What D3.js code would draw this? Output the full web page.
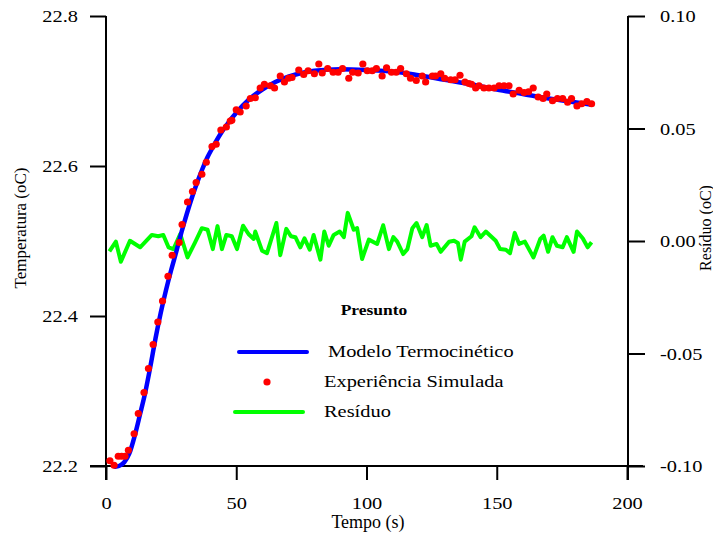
<!DOCTYPE html>
<html>
<head>
<meta charset="utf-8">
<script src="https://cdn.jsdelivr.net/npm/d3@7"></script>
<style>
  body { margin: 0; background: #fff; }
  svg text { font-family: "Liberation Serif", "Times New Roman", serif; fill: #000; }
</style>
</head>
<body>
<div id="chart"></div>
<script>
// model curve (time s, temperature oC)
var modelPoints = [
  [3.5,22.199],[5,22.200],[7,22.205],[9,22.217],[11,22.240],[13,22.268],[15,22.297],
  [17,22.332],[19,22.370],[21,22.404],[23,22.434],[25,22.461],[27,22.486],[29,22.512],
  [31,22.536],[33,22.558],[35,22.578],[37,22.596],[39,22.612],[41,22.625],[44,22.643],
  [47,22.658],[50,22.671],[55,22.689],[60,22.702],[65,22.712],[70,22.719],[75,22.724],
  [80,22.727],[90,22.729],[100,22.728],[110,22.726],[120,22.721],[130,22.715],
  [140,22.709],[150,22.702],[160,22.696],[170,22.690],[180,22.685],[186,22.682]
];

// simulated experiment points
var expPoints = [
  [1.5,22.207],[3.1,22.201],[4.7,22.213],[6.0,22.213],[7.3,22.213],[8.6,22.221],
  [10.8,22.243],[12.4,22.270],[14.6,22.298],[16.3,22.330],[18.1,22.362],[19.9,22.392],
  [21.7,22.420],[23.8,22.453],[25.4,22.481],[28.1,22.498],[29.2,22.522],[31.3,22.552],
  [33.2,22.566],[34.6,22.578],[36.8,22.589],[38.5,22.605],[40.7,22.626],[42.3,22.629],
  [44.1,22.648],[46.2,22.652],[47.7,22.660],[48.3,22.661],[50.0,22.675],[51.5,22.672],
  [53.8,22.680],[55.4,22.690],[57.3,22.691],[59.2,22.704],[60.8,22.709],[63.1,22.707],
  [64.7,22.704],[66.9,22.720],[68.5,22.712],[70.1,22.717],[71.4,22.718],[74.0,22.728],
  [75.9,22.722],[77.6,22.727],[80.0,22.723],[81.7,22.736],[83.0,22.724],[85.1,22.730],
  [87.2,22.725],[89.1,22.725],[90.8,22.730],[93.2,22.717],[94.7,22.725],[96.8,22.724],
  [98.6,22.736],[100.3,22.727],[102.2,22.727],[103.8,22.730],[106.0,22.720],[107.7,22.731],
  [109.6,22.725],[111.4,22.725],[113.1,22.730],[115.3,22.723],[116.9,22.717],[119.1,22.714],
  [121.4,22.720],[122.7,22.712],[125.3,22.720],[126.5,22.720],[128.5,22.723],[130.0,22.717],
  [132.3,22.715],[134.0,22.715],[135.9,22.721],[137.8,22.712],[139.3,22.710],[140.3,22.709],
  [141.9,22.704],[143.2,22.707],[145.1,22.704],[147.0,22.704],[149.0,22.704],[150.9,22.707],
  [152.8,22.707],[154.7,22.707],[156.3,22.696],[158.6,22.701],[160.5,22.698],[162.2,22.699],
  [164.0,22.704],[165.9,22.692],[167.8,22.690],[169.2,22.696],[171.4,22.687],[173.3,22.690],
  [175.3,22.690],[177.2,22.685],[178.7,22.690],[180.8,22.680],[182.6,22.683],[184.6,22.686],
  [186.4,22.683]
];

// residual (right axis)
var residualPoints = [
  [1.3,-0.0046],[3.8,-0.0003],[5.7,-0.0092],[9.2,0.0001],[13.1,-0.0028],[17.6,0.0027],
  [20.1,0.0021],[22.0,0.0027],[24.0,-0.0028],[25.9,-0.0036],[28.5,0.0031],[31.3,-0.0073],
  [34.2,-0.0006],[36.8,0.0057],[39.0,0.0050],[41.0,-0.0036],[42.8,0.0066],[44.5,-0.0036],
  [46.2,0.0027],[48.3,0.0021],[50.3,-0.0036],[52.6,0.0068],[54.7,0.0031],[56.7,0.0009],
  [57.3,0.0042],[59.9,-0.0043],[61.8,-0.0054],[65.4,0.0080],[66.9,-0.0063],[69.2,0.0054],
  [71.0,0.0021],[72.7,0.0017],[74.6,-0.0028],[76.2,0.0012],[78.2,-0.0039],[79.7,0.0027],
  [82.3,-0.0083],[83.8,0.0042],[85.5,-0.0021],[87.4,0.0027],[89.7,0.0042],[91.3,0.0017],
  [92.8,0.0125],[95.1,0.0050],[96.4,0.0057],[98.3,-0.0080],[100.9,0.0006],[104.1,-0.0013],
  [106.4,0.0070],[108.6,-0.0036],[110.3,0.0017],[111.8,-0.0003],[114.1,-0.0058],[115.7,-0.0036],
  [117.6,0.0057],[119.2,0.0080],[121.4,0.0017],[123.1,0.0071],[124.6,-0.0021],[126.9,-0.0013],
  [128.5,-0.0048],[131.7,-0.0003],[133.6,0.0001],[135.1,-0.0009],[136.2,-0.0083],[137.7,-0.0003],
  [140.3,0.0021],[141.5,0.0061],[143.8,0.0017],[145.8,0.0042],[149.6,0.0001],[151.3,-0.0036],
  [153.5,-0.0039],[155.1,-0.0054],[156.9,0.0036],[158.6,-0.0013],[160.8,-0.0003],[164.1,-0.0073],
  [166.7,0.0009],[168.0,0.0024],[169.7,-0.0048],[171.4,0.0017],[173.1,-0.0021],[175.3,-0.0028],
  [176.9,0.0017],[179.5,-0.0048],[180.8,0.0042],[183.0,0.0012],[184.9,-0.0028],[186.4,-0.0006]
];

var xTicks = [0, 50, 100, 150, 200];
var leftTicks = [22.2, 22.4, 22.6, 22.8];
var rightTicks = [-0.10, -0.05, 0.00, 0.05, 0.10];

var legendItems = [
  {label: 'Modelo Termocinético', type: 'line', color: '#0000ff'},
  {label: 'Experiência Simulada', type: 'dot', color: '#ff0000'},
  {label: 'Resíduo', type: 'line', color: '#00ff00'}
];

var W = 713, H = 535, sx = 1.2;

var svg = d3.select('#chart').append('svg')
    .attr('width', W)
    .attr('height', H);

var x = d3.scaleLinear().domain([0, 200]).range([106, 627]),
    yL = d3.scaleLinear().domain([22.2, 22.8]).range([466, 16]),
    yR = d3.scaleLinear().domain([-0.1, 0.1]).range([466, 16]);

// axes
var xAxis = d3.axisBottom(x).tickValues(xTicks).tickSize(14).tickFormat(d3.format('d')),
    lAxis = d3.axisLeft(yL).tickValues(leftTicks).tickSize(16).tickFormat(d3.format('.1f')),
    rAxis = d3.axisRight(yR).tickValues(rightTicks).tickSize(17)
      .tickFormat(function(d) { return d.toFixed(2); });

function styleAxis(g) {
  g.select('.domain').remove();
  g.selectAll('line').attr('stroke', '#000').attr('stroke-width', 2);
  g.selectAll('text').style('font-size', '17px');
}

var gx = svg.append('g').attr('transform', 'translate(0,466)').call(xAxis).call(styleAxis);
gx.selectAll('text').attr('y', 0).attr('dy', 0)
  .attr('transform', 'translate(0,43) scale(' + sx + ',1)');

var gl = svg.append('g').attr('transform', 'translate(106,0)').call(lAxis).call(styleAxis);
gl.selectAll('text').attr('x', 0).attr('dy', '0.33em')
  .attr('transform', 'translate(-28,0) scale(' + sx + ',1)');

var gr = svg.append('g').attr('transform', 'translate(628,0)').call(rAxis).call(styleAxis);
gr.selectAll('text').attr('x', 0).attr('dy', '0.33em')
  .attr('transform', 'translate(32,0) scale(' + sx + ',1)');

// axis lines
svg.append('line').attr('x1', 90).attr('x2', 643).attr('y1', 466).attr('y2', 466)
  .attr('stroke', '#000').attr('stroke-width', 2);
svg.append('line').attr('x1', 106).attr('x2', 106).attr('y1', 16).attr('y2', 480)
  .attr('stroke', '#000').attr('stroke-width', 2);
svg.append('line').attr('x1', 628).attr('x2', 628).attr('y1', 16).attr('y2', 480)
  .attr('stroke', '#000').attr('stroke-width', 2);

// axis titles
svg.append('text').attr('x', 368).attr('y', 528)
  .attr('text-anchor', 'middle').style('font-size', '18px').text('Tempo (s)');
svg.append('text').attr('transform', 'translate(26,228) rotate(-90)')
  .attr('text-anchor', 'middle').style('font-size', '17px').text('Temperatura (oC)');
svg.append('text').attr('transform', 'translate(711,228) rotate(-90)')
  .attr('text-anchor', 'middle').style('font-size', '16px').text('Resíduo (oC)');

// series
var lineL = d3.line().x(function(d) { return x(d[0]); }).y(function(d) { return yL(d[1]); }),
    lineR = d3.line().x(function(d) { return x(d[0]); }).y(function(d) { return yR(d[1]); });

svg.append('path').datum(residualPoints)
  .attr('d', lineR).attr('fill', 'none')
  .attr('stroke', '#00ff00').attr('stroke-width', 4).attr('stroke-linejoin', 'round');

svg.append('path').datum(modelPoints)
  .attr('d', lineL.curve(d3.curveMonotoneX)).attr('fill', 'none')
  .attr('stroke', '#0000ff').attr('stroke-width', 4.5).attr('stroke-linecap', 'round');

svg.append('g').selectAll('circle')
  .data(expPoints)
  .enter()
  .append('circle')
  .attr('cx', function(d) { return x(d[0]); })
  .attr('cy', function(d) { return yL(d[1]); })
  .attr('r', 3.6)
  .attr('fill', '#ff0000');

// legend
svg.append('text').attr('transform', 'translate(374,315) scale(1.25,1)')
  .attr('text-anchor', 'middle').style('font-size', '14px').style('font-weight', 'bold')
  .text('Presunto');

var legend = svg.append('g').selectAll('.legend')
  .data(legendItems)
  .enter()
  .append('g')
  .attr('class', 'legend')
  .attr('transform', function(d, i) { return 'translate(0,' + (352 + i * 30) + ')'; });

legend.filter(function(d) { return d.type === 'line'; })
  .append('line')
  .attr('x1', function(d, i) { return i === 0 ? 239 : 235; })
  .attr('x2', function(d, i) { return i === 0 ? 307 : 303; })
  .attr('stroke', function(d) { return d.color; })
  .attr('stroke-width', 4).attr('stroke-linecap', 'round');

legend.filter(function(d) { return d.type === 'dot'; })
  .append('circle')
  .attr('cx', 267).attr('r', 3.6)
  .attr('fill', function(d) { return d.color; });

legend.append('text')
  .attr('transform', function(d, i) { return 'translate(' + (i === 0 ? 328 : 324) + ',5) scale(' + sx + ',1)'; })
  .style('font-size', '17px')
  .text(function(d) { return d.label; });
</script>
</body>
</html>
